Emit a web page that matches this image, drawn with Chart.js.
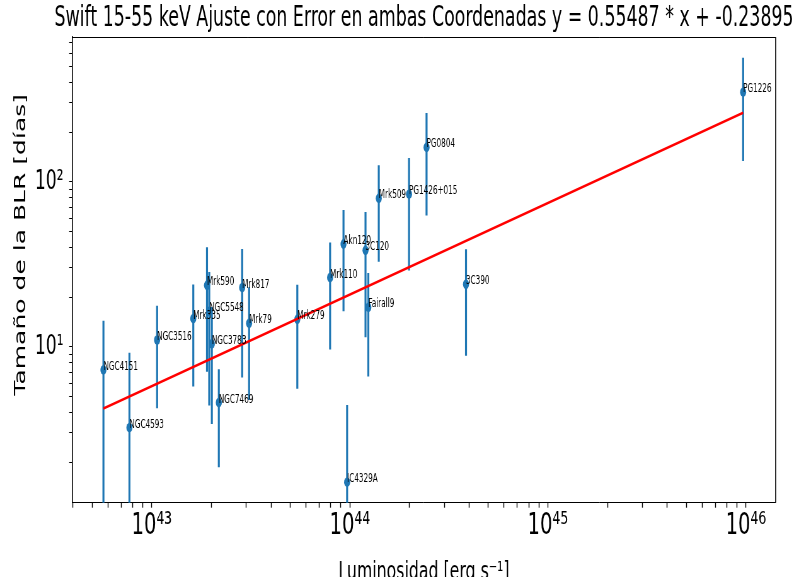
<!DOCTYPE html>
<html>
<head>
<meta charset="utf-8">
<script src="https://cdn.jsdelivr.net/npm/chart.js@4.4.1/dist/chart.umd.min.js"></script>
<style>
  html, body { margin: 0; padding: 0; background: #ffffff; overflow: hidden; }
  #fig { display: block; width: 799px; height: 577px; }
</style>
</head>
<body>
<canvas id="fig" width="1268" height="577" style="width:799px;height:577px"></canvas>
<script>
// Reverberation-mapped AGN
const names = ['NGC4151', 'NGC4593', 'NGC3516', 'Mrk335', 'Mrk590', 'NGC5548', 'NGC3783',
  'NGC7469', 'Mrk817', 'Mrk79', 'Mrk279', 'Mrk110', 'Akn120', 'IC4329A', '3C120',
  'Fairall9', 'Mrk509', 'PG1426+015', 'PG0804', '3C390', 'PG1226'];
// Swift 15-55 keV luminosity [erg s^-1]
const luminosity = [5.70e42, 7.71e42, 1.064e43, 1.62e43, 1.90e43, 1.95e43, 2.01e43,
  2.18e43, 2.86e43, 3.10e43, 5.43e43, 7.95e43, 9.29e43, 9.69e43, 1.20e44,
  1.24e44, 1.40e44, 1.99e44, 2.44e44, 3.86e44, 9.68e45];
// BLR size [days]
const blrSize = [7.23, 3.23, 10.98, 14.79, 23.55, 16.4, 10.4,
  4.58, 22.8, 13.86, 14.66, 26.2, 41.9, 1.51, 38.4,
  17.3, 79.3, 84.0, 161.4, 23.9, 348.5];
// BLR size uncertainty [days]
const blrError = [7.15, 5.97, 6.75, 9.05, 16.5, 12.0, 7.0,
  2.72, 16.3, 9.1, 9.1, 16.6, 25.5, 2.93, 27.0,
  10.7, 46.6, 55.0, 99.0, 15.1, 215.0];

// Fit: log10(tau / 10 d) = a * log10(L / 1e43) + b
const FIT_SLOPE = 0.55487;
const FIT_INTERCEPT = -0.23895;

// Axes
const xLimits = [3.97e42, 1.413e46];
const yLimits = [1.134, 753];
const xTickValues = [1e43, 1e44, 1e45, 1e46];
const xTickLabels = ['10⁴³', '10⁴⁴', '10⁴⁵', '10⁴⁶'];
const yTickValues = [1e1, 1e2];
const yTickLabels = ['10¹', '10²'];

const titleText = `Swift 15-55 keV Ajuste con Error en ambas Coordenadas y = ${FIT_SLOPE} * x + ${FIT_INTERCEPT}`;
const xTitle = 'Luminosidad [erg s⁻¹]';
const yTitle = 'Tamaño de la BLR [días]';

// The figure is laid out on a wider canvas and compressed horizontally to the page width.
const SQUEEZE = 0.63;
const PAGE_W = 799, PAGE_H = 577;
const canvas = document.getElementById('fig');
canvas.width = Math.round(PAGE_W / SQUEEZE);
canvas.height = PAGE_H;
const sx = v => v / SQUEEZE;

const BLUE = '#1f77b4';
const FONT = "'DejaVu Sans', 'Liberation Sans', sans-serif";

const PLOT = { left: 72.3, right: 775.5, top: 37, bottom: 502.7 };

function logTicks(lo, hi) {
  const out = [];
  for (let e = Math.floor(Math.log10(lo)); e <= Math.ceil(Math.log10(hi)); e++) {
    for (let k = 1; k <= 9; k++) {
      const v = k * Math.pow(10, e);
      if (v >= lo && v <= hi) out.push({ value: v });
    }
  }
  return out;
}
function labelFor(values, labels, v) {
  const i = values.findIndex(t => Math.abs(t - v) / t < 1e-6);
  return i >= 0 ? labels[i] : '';
}

// Vertical error bars: one segment per source, separated by gaps
const errorSegments = [];
luminosity.forEach((L, i) => {
  errorSegments.push({ x: L, y: Math.max(blrSize[i] - blrError[i], 1e-3) });
  errorSegments.push({ x: L, y: blrSize[i] + blrError[i] });
  errorSegments.push({ x: L, y: null });
});

const points = luminosity.map((L, i) => ({ x: L, y: blrSize[i] }));

const logTauFit = L => 1 + FIT_INTERCEPT + FIT_SLOPE * Math.log10(L / 1e43);
const fitLine = [Math.min(...luminosity), Math.max(...luminosity)]
  .map(L => ({ x: L, y: Math.pow(10, logTauFit(L)) }));

const decorations = {
  id: 'decorations',
  afterDatasetsDraw(chart) {
    const ctx = chart.ctx;
    const meta = chart.getDatasetMeta(1);
    ctx.save();
    ctx.fillStyle = '#000';
    ctx.font = `11.5px ${FONT}`;
    ctx.textAlign = 'left';
    ctx.textBaseline = 'alphabetic';
    meta.data.forEach((pt, i) => ctx.fillText(names[i], pt.x, pt.y));
    ctx.restore();
  },
  afterDraw(chart) {
    const { ctx, chartArea: a } = chart;
    ctx.save();
    ctx.strokeStyle = '#000';
    ctx.lineWidth = 1;
    ctx.beginPath();
    ctx.moveTo(a.left, a.top + 0.5);
    ctx.lineTo(a.right, a.top + 0.5);
    ctx.stroke();
    ctx.lineWidth = sx(1);
    ctx.beginPath();
    ctx.moveTo(a.right, a.top);
    ctx.lineTo(a.right, a.bottom);
    ctx.stroke();

    ctx.fillStyle = '#000';
    ctx.font = `27.6px ${FONT}`;
    ctx.textAlign = 'center';
    ctx.textBaseline = 'alphabetic';
    ctx.fillText(titleText, (a.left + a.right) / 2, 25.5);

    ctx.translate(sx(25), (a.top + a.bottom) / 2 - 25);
    ctx.rotate(-Math.PI / 2);
    ctx.font = `25px ${FONT}`;
    ctx.fillText(yTitle, 0, 0);
    ctx.restore();
  }
};

new Chart(canvas, {
  type: 'scatter',
  data: {
    datasets: [
      {
        label: 'error',
        data: errorSegments,
        showLine: true,
        borderColor: BLUE,
        borderWidth: sx(2),
        pointRadius: 0,
        clip: 0,
        order: 3
      },
      {
        label: 'BLR',
        data: points,
        showLine: false,
        pointRadius: 4.8,
        pointBorderWidth: 0,
        pointBackgroundColor: BLUE,
        order: 2
      },
      {
        label: 'fit',
        data: fitLine,
        showLine: true,
        borderColor: '#ff0000',
        borderWidth: 2.8,
        pointRadius: 0,
        order: 1
      }
    ]
  },
  options: {
    responsive: false,
    devicePixelRatio: 1,
    animation: false,
    events: [],
    layout: {
      padding: { top: PLOT.top, right: canvas.width - sx(PLOT.right), left: 0, bottom: 0 }
    },
    plugins: {
      legend: { display: false },
      tooltip: { enabled: false },
      title: { display: false }
    },
    scales: {
      x: {
        type: 'logarithmic',
        position: 'bottom',
        min: xLimits[0],
        max: xLimits[1],
        afterBuildTicks: s => { s.ticks = logTicks(xLimits[0], xLimits[1]); },
        afterFit: s => { s.height = PAGE_H - PLOT.bottom; },
        ticks: {
          autoSkip: false, maxRotation: 0, minRotation: 0, padding: 0,
          color: '#000',
          font: { family: FONT, size: 31 },
          callback: v => labelFor(xTickValues, xTickLabels, v)
        },
        grid: { display: true, drawOnChartArea: false, drawTicks: true, tickLength: 5, tickWidth: sx(0.9), tickColor: '#000' },
        border: { display: true, color: '#000', width: 1 },
        title: { display: true, text: xTitle, color: '#000', font: { family: FONT, size: 25 }, padding: { top: 0, bottom: -10 } }
      },
      y: {
        type: 'logarithmic',
        position: 'left',
        min: yLimits[0],
        max: yLimits[1],
        afterBuildTicks: s => { s.ticks = logTicks(yLimits[0], yLimits[1]); },
        afterFit: s => { s.width = sx(PLOT.left); },
        ticks: {
          autoSkip: false, padding: 9,
          color: '#000',
          font: { family: FONT, size: 27 },
          callback: v => labelFor(yTickValues, yTickLabels, v)
        },
        grid: { display: true, drawOnChartArea: false, drawTicks: true, tickLength: 5, tickWidth: 1, tickColor: '#000' },
        border: { display: true, color: '#000', width: sx(1) }
      }
    }
  },
  plugins: [decorations]
});
</script>
</body>
</html>
